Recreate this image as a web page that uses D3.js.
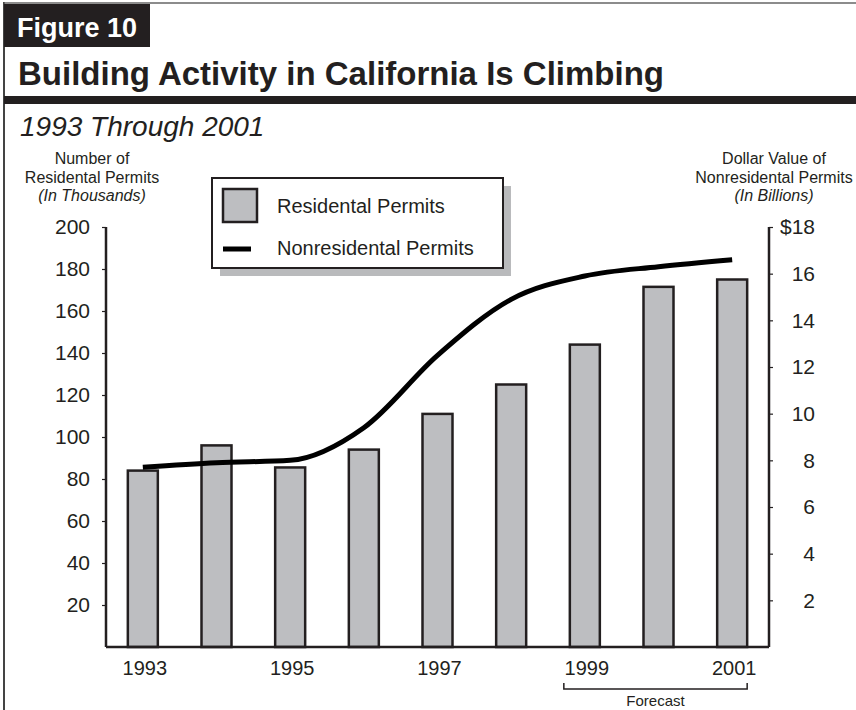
<!DOCTYPE html>
<html>
<head>
<meta charset="utf-8">
<script src="https://cdn.jsdelivr.net/npm/d3@7/dist/d3.min.js"></script>
<style>
  html, body { margin: 0; padding: 0; background: #fff; }
  svg { display: block; font-family: "Liberation Sans", Arial, Helvetica, sans-serif; }
</style>
</head>
<body>
<svg id="chart" width="856" height="710"></svg>
<script>
// Building permits in California, 1993-2001 (1999-2001 forecast)
const years = [1993, 1994, 1995, 1996, 1997, 1998, 1999, 2000, 2001];
const residentialPermits = [84, 96, 85.5, 94, 111, 125, 144, 171.5, 175];      // thousands
const nonresidentialValue = [7.7, 7.9, 8.0, 9.4, 12.5, 14.9, 15.9, 16.3, 16.6]; // $ billions
const leftTicks = [20, 40, 60, 80, 100, 120, 140, 160, 180, 200];
const rightTicks = [2, 4, 6, 8, 10, 12, 14, 16, 18];
const yearLabels = [1993, 1995, 1997, 1999, 2001];
const forecastYears = [1999, 2001];

const ink = "#231f20";
const barFill = "#bdbec1";
const svg = d3.select("#chart");

// ---- frame and heading ----
svg.append("line").attr("x1", 4).attr("x2", 4).attr("y1", 2).attr("y2", 710)
  .attr("stroke", "#444").attr("stroke-width", 2);
svg.append("line").attr("x1", 4).attr("x2", 856).attr("y1", 3).attr("y2", 3)
  .attr("stroke", "#666").attr("stroke-width", 1.5);
svg.append("rect").attr("x", 4).attr("y", 4).attr("width", 146).attr("height", 43).attr("fill", ink);
svg.append("text").attr("x", 17).attr("y", 37).attr("fill", "#fff")
  .attr("font-size", 27).attr("font-weight", "bold").text("Figure 10");
svg.append("text").attr("x", 18).attr("y", 85).attr("fill", ink)
  .attr("font-size", 33).attr("font-weight", "bold").text("Building Activity in California Is Climbing");
svg.append("rect").attr("x", 4).attr("y", 96).attr("width", 852).attr("height", 8).attr("fill", ink);
svg.append("text").attr("x", 20).attr("y", 136).attr("fill", ink)
  .attr("font-size", 28).attr("font-style", "italic").text("1993 Through 2001");

// ---- axis titles ----
function axisTitle(cx, lines) {
  const baselines = [164, 183, 201];
  lines.forEach((t, i) => {
    svg.append("text").attr("x", cx).attr("y", baselines[i]).attr("text-anchor", "middle")
      .attr("fill", ink).attr("font-size", 16).attr("font-style", i === 2 ? "italic" : "normal").text(t);
  });
}
axisTitle(92, ["Number of", "Residental Permits", "(In Thousands)"]);
axisTitle(774, ["Dollar Value of", "Nonresidental Permits", "(In Billions)"]);

// ---- scales ----
const x0 = 106, x1 = 769, yTop = 227, yBase = 647;
const x = d3.scalePoint().domain(years).range([x0, x1]).padding(0.5);
const yLeft = d3.scaleLinear().domain([0, 200]).range([yBase, yTop]);
const yRight = d3.scaleLinear().domain([0, 18]).range([yBase, yTop]);
const barW = 30;

// ---- bars ----
svg.append("g").selectAll("rect").data(years).join("rect")
  .attr("x", d => x(d) - barW / 2)
  .attr("y", (d, i) => yLeft(residentialPermits[i]))
  .attr("width", barW)
  .attr("height", (d, i) => yBase - yLeft(residentialPermits[i]))
  .attr("fill", barFill).attr("stroke", ink).attr("stroke-width", 2.5);

// ---- nonresidential line ----
const line = d3.line()
  .x((d, i) => x(years[i]))
  .y(d => yRight(d))
  .curve(d3.curveMonotoneX);
svg.append("path").datum(nonresidentialValue).attr("d", line)
  .attr("fill", "none").attr("stroke", "#000").attr("stroke-width", 5);

// ---- axes ----
const leftAxis = svg.append("g").attr("transform", `translate(${x0},0)`)
  .call(d3.axisLeft(yLeft).tickValues(leftTicks).tickSize(4).tickPadding(12).tickFormat(d3.format("d")));
const rightAxis = svg.append("g").attr("transform", `translate(${x1},0)`)
  .call(d3.axisRight(yRight).tickValues(rightTicks).tickSize(4).tickPadding(0)
    .tickFormat(d => d === 18 ? "$18" : String(d)));
[leftAxis, rightAxis].forEach(g => {
  g.select(".domain").attr("d", `M0,${yTop}V${yBase}`).attr("stroke", ink).attr("stroke-width", 2.5);
  g.selectAll(".tick line").attr("stroke", ink).attr("stroke-width", 1.2);
  g.selectAll(".tick text").attr("fill", ink).attr("font-size", 21)
    .attr("font-family", "'Liberation Sans', Arial, sans-serif");
});
rightAxis.selectAll(".tick text").attr("text-anchor", "end").attr("x", 815 - x1);

// baseline
svg.append("line").attr("x1", x0).attr("x2", x1).attr("y1", yBase).attr("y2", yBase)
  .attr("stroke", ink).attr("stroke-width", 2.5);

// year labels
svg.append("g").selectAll("text").data(yearLabels).join("text")
  .attr("x", d => x(d) + 2).attr("y", 675).attr("text-anchor", "middle")
  .attr("fill", ink).attr("font-size", 20).text(d => d);

// forecast bracket
const fb0 = x(forecastYears[0]) - 21, fb1 = x(forecastYears[1]) + 15;
svg.append("path").attr("d", `M${fb0},683V689H${fb1}V683`)
  .attr("fill", "none").attr("stroke", ink).attr("stroke-width", 1.5);
svg.append("text").attr("x", (fb0 + fb1) / 2).attr("y", 706).attr("text-anchor", "middle")
  .attr("fill", ink).attr("font-size", 15).text("Forecast");

// ---- legend ----
const lg = svg.append("g");
lg.append("rect").attr("x", 220).attr("y", 186).attr("width", 291).attr("height", 90).attr("fill", "#b9babc");
lg.append("rect").attr("x", 212).attr("y", 178).attr("width", 291).attr("height", 90)
  .attr("fill", "#fff").attr("stroke", ink).attr("stroke-width", 2);
lg.append("rect").attr("x", 223).attr("y", 189).attr("width", 34).attr("height", 33)
  .attr("fill", barFill).attr("stroke", ink).attr("stroke-width", 2.5);
lg.append("line").attr("x1", 223).attr("x2", 251).attr("y1", 249).attr("y2", 249)
  .attr("stroke", "#000").attr("stroke-width", 5);
lg.append("text").attr("x", 277).attr("y", 213).attr("fill", ink).attr("font-size", 20).text("Residental Permits");
lg.append("text").attr("x", 277).attr("y", 255).attr("fill", ink).attr("font-size", 20).text("Nonresidental Permits");
</script>
</body>
</html>
